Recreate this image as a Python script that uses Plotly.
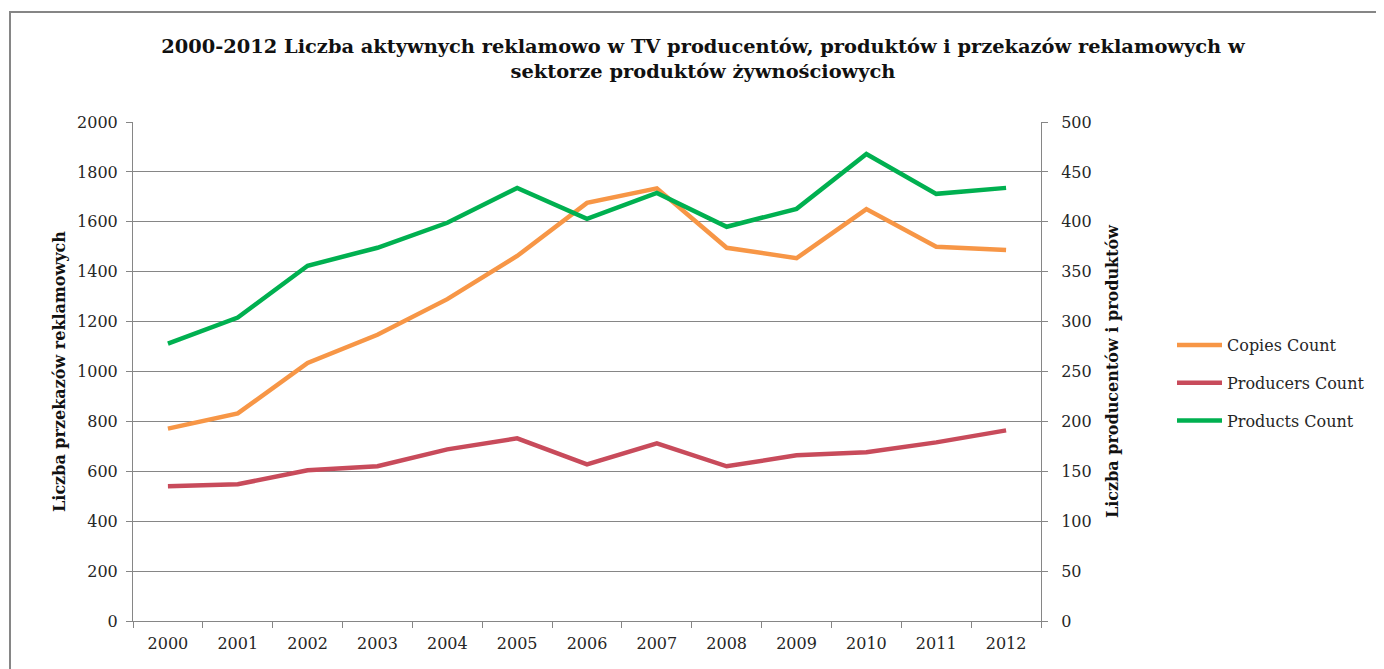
import plotly.graph_objects as go

years = ["2000", "2001", "2002", "2003", "2004", "2005", "2006",
         "2007", "2008", "2009", "2010", "2011", "2012"]
copies_count = [771, 832, 1034, 1147, 1290, 1463, 1676, 1734, 1496, 1454, 1651, 1500, 1487]
producers_count = [135, 137, 151, 155, 172, 183, 157, 178, 155, 166, 169, 179, 191]
products_count = [278, 304, 356, 374, 399, 434, 403, 429, 395, 413, 468, 428, 434]

title_text = ("2000-2012 Liczba aktywnych reklamowo w TV producentów, produktów i przekazów reklamowych w<br>"
              "sektorze produktów żywnościowych")
left_title = "Liczba przekazów reklamowych"
right_title = "Liczba producentów i produktów"

FONT = "DejaVu Serif"
GRID = "#868686"
TXT = "#262626"

fig = go.Figure()
fig.add_trace(go.Scatter(x=years, y=copies_count, name="Copies Count", mode="lines",
                         line=dict(color="#F79646", width=4.5), legendgroup="a"))
fig.add_trace(go.Scatter(x=years, y=producers_count, name="Producers Count", mode="lines",
                         line=dict(color="#C84B5B", width=4.5), yaxis="y2", legendgroup="b"))
fig.add_trace(go.Scatter(x=years, y=products_count, name="Products Count", mode="lines",
                         line=dict(color="#00B050", width=4.5), yaxis="y2", legendgroup="c"))

fig.update_layout(
    width=1384, height=669,
    margin=dict(l=125, r=351, t=114, b=56),
    paper_bgcolor="white", plot_bgcolor="white",
    font=dict(family=FONT, size=16, color=TXT),
    title=dict(text=title_text, x=695/1384, xref="container", xanchor="center",
               y=1-45/669, yref="container", yanchor="top",
               font=dict(family=FONT, size=19.4, color="#111111", weight="bold")),
    xaxis=dict(type="category", showgrid=False, showline=True, linecolor=GRID, linewidth=1,
               ticks="outside", tickson="boundaries", ticklen=6, tickcolor=GRID,
               ticklabelstandoff=8,
               tickfont=dict(size=16, color=TXT), range=[-0.5, 12.5]),
    yaxis=dict(range=[0, 2000], dtick=200, showgrid=True, gridcolor=GRID, gridwidth=1,
               showline=True, linecolor=GRID, linewidth=1, ticks="outside", ticklen=6,
               tickcolor=GRID, zeroline=False, tickfont=dict(size=16, color=TXT),
               ticklabelstandoff=5,
               title=dict(text=left_title, standoff=7,
                          font=dict(family=FONT, size=16, weight="bold", color="#111111"))),
    yaxis2=dict(range=[0, 500], dtick=50, overlaying="y", side="right", showgrid=False,
                showline=True, linecolor=GRID, linewidth=1, ticks="outside", ticklen=6,
                tickcolor=GRID, zeroline=False, tickfont=dict(size=16, color=TXT),
                ticklabelstandoff=10,
                title=dict(text=right_title, standoff=16,
                           font=dict(family=FONT, size=16, weight="bold", color="#111111"))),
    legend=dict(x=(1172-133)/908, xanchor="left", y=(621-328)/499, yanchor="top",
                tracegroupgap=14, itemwidth=45, font=dict(size=16, color=TXT),
                bgcolor="rgba(0,0,0,0)"),
    showlegend=True,
)

fig.add_shape(type="rect", xref="paper", yref="paper",
              x0=(10-133)/908, x1=(1400-133)/908, y0=(621-690)/499, y1=(621-12)/499,
              line=dict(color=GRID, width=2), fillcolor="rgba(0,0,0,0)", layer="below")

fig.write_html("out.html")
